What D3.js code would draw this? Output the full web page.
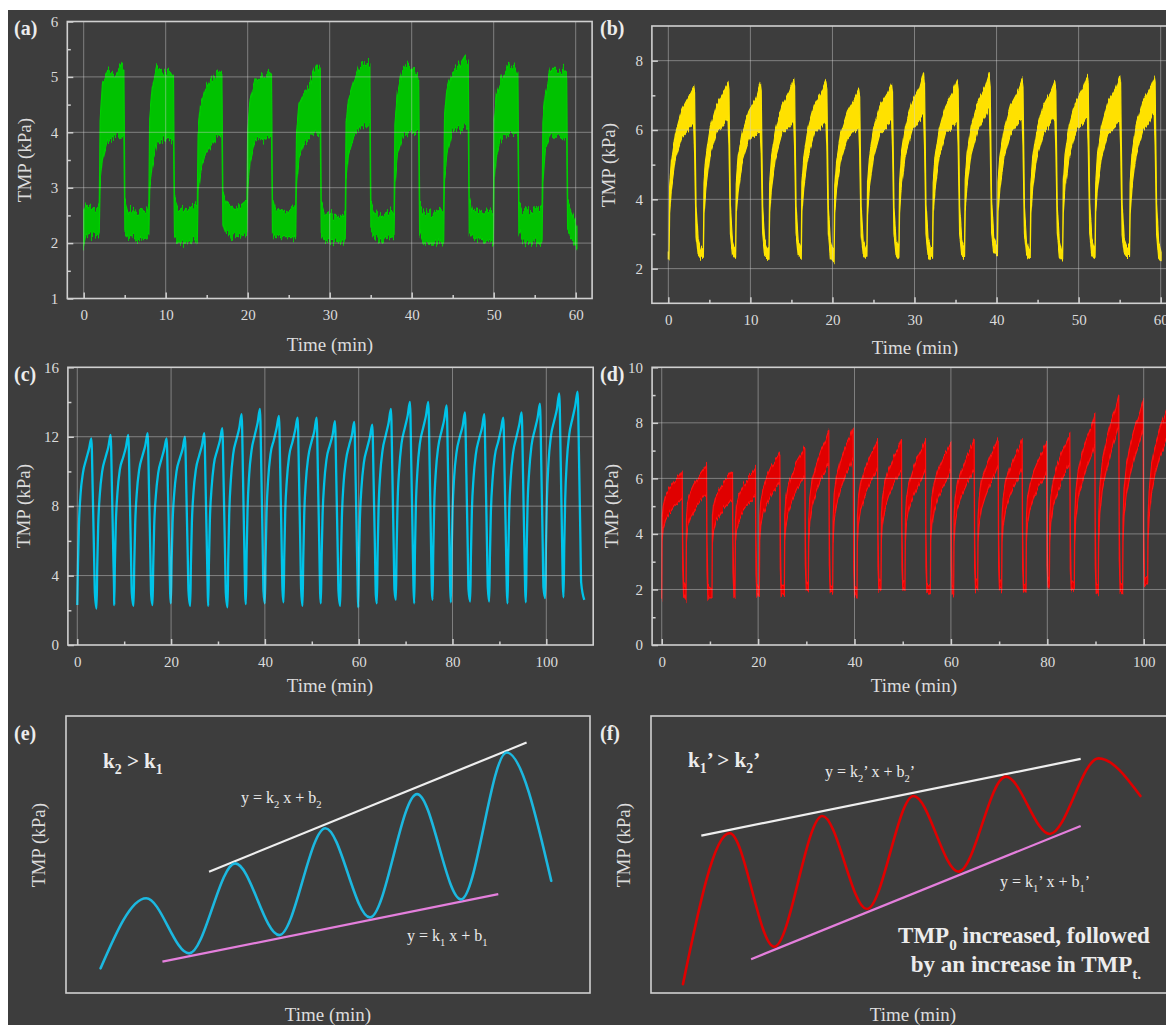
<!DOCTYPE html>
<html>
<head>
<meta charset="utf-8">
<script src="https://cdn.jsdelivr.net/npm/d3@7"></script>
<style>
  body { margin: 0; background: #fff; }
  svg { display: block; }
  text { white-space: pre; }
</style>
</head>
<body>
<svg id="fig" width="1166" height="1025"></svg>
<script>
// ---------------- Data ----------------
// (a) TMP cycles, 6-min period: rise times (min), sample offsets within a cycle (min),
// band upper / lower edges (kPa) at those offsets.
const aRise = [1.9, 7.95, 13.85, 19.9, 25.85, 31.9, 37.85, 43.9, 49.95, 55.9];
const aOffsets = [0, 0.1, 0.4, 1.0, 1.8, 2.6, 3.0, 3.12, 3.5, 4.6, 5.85];
const aUpper = [
  [2.7, 4.2, 4.9, 5.1, 5.0, 5.2, 5.1, 2.8, 2.6, 2.55, 2.6],
  [2.7, 4.3, 4.8, 5.2, 5.1, 5.1, 5.0, 2.8, 2.65, 2.6, 2.7],
  [2.7, 4.0, 4.5, 4.8, 5.0, 5.1, 5.1, 2.9, 2.75, 2.6, 2.75],
  [2.75, 4.1, 4.6, 4.9, 5.0, 5.1, 5.05, 2.8, 2.6, 2.55, 2.65],
  [2.7, 4.0, 4.5, 4.7, 4.9, 5.2, 5.1, 2.75, 2.55, 2.5, 2.5],
  [2.55, 4.2, 4.6, 4.9, 5.2, 5.25, 5.2, 2.75, 2.6, 2.5, 2.6],
  [2.6, 4.2, 4.7, 5.1, 5.25, 5.1, 5.0, 2.7, 2.6, 2.55, 2.6],
  [2.6, 4.3, 4.8, 5.1, 5.2, 5.4, 5.3, 2.8, 2.6, 2.55, 2.6],
  [2.55, 4.2, 4.7, 5.0, 5.2, 5.25, 5.1, 2.75, 2.6, 2.6, 2.65],
  [2.7, 4.2, 4.7, 5.1, 5.1, 5.1, 5.05, 2.75, 2.6]
];
const aLower = [
  [2.2, 3.1, 3.5, 3.85, 3.9, 3.95, 3.9, 2.2, 2.1, 2.05, 2.1],
  [2.15, 3.0, 3.4, 3.8, 3.85, 3.85, 3.9, 2.1, 2.0, 2.0, 2.1],
  [2.0, 2.9, 3.3, 3.6, 3.8, 3.95, 4.0, 2.4, 2.2, 2.1, 2.15],
  [2.15, 3.0, 3.5, 3.85, 3.85, 3.9, 3.95, 2.2, 2.1, 2.1, 2.1],
  [2.1, 3.0, 3.5, 3.8, 3.9, 4.0, 4.0, 2.15, 2.05, 2.05, 2.0],
  [2.05, 3.1, 3.6, 3.9, 4.1, 4.1, 4.1, 2.2, 2.1, 2.05, 2.1],
  [2.1, 3.1, 3.6, 3.9, 4.0, 4.0, 4.0, 2.15, 2.0, 2.0, 2.0],
  [2.05, 3.2, 3.6, 4.0, 4.05, 4.1, 4.05, 2.2, 2.1, 2.05, 2.0],
  [1.95, 3.1, 3.6, 3.9, 4.0, 4.0, 3.95, 2.2, 2.05, 2.0, 2.0],
  [2.05, 3.1, 3.7, 3.95, 3.95, 3.9, 3.9, 2.2, 2.1]
];
const aHead = [[0, 1.95, 2.55], [0.3, 2.15, 2.7], [1.0, 2.1, 2.6], [1.8, 2.15, 2.65]]; // [t, lower, upper]
const aTail = [[59.8, 2.0, 2.45], [60.15, 1.9, 2.3]];

// (b) TMP cycles, 4-min period
const bRise = [0.08, 4.27, 8.2, 12.27, 16.2, 20.2, 24.2, 28.1, 32.2, 36.1, 40.1, 44.1, 48.05, 52.0, 56.2];
const bOffsets = [0, 0.08, 0.3, 0.8, 1.6, 2.5, 3.0, 3.12, 3.3, 3.55, 3.85];
const bUpper = [
  [2.5, 4.4, 5.1, 5.9, 6.6, 7.0, 7.25, 7.05, 3.8, 2.85, 2.6],
  [2.55, 4.5, 5.2, 6.0, 6.7, 7.1, 7.35, 7.1, 3.8, 2.8, 2.55],
  [2.5, 4.5, 5.2, 5.9, 6.5, 6.9, 7.35, 7.1, 3.8, 2.8, 2.6],
  [2.6, 4.5, 5.2, 6.0, 6.7, 7.1, 7.45, 7.2, 3.8, 2.85, 2.6],
  [2.6, 4.5, 5.2, 6.0, 6.7, 7.1, 7.4, 7.2, 3.8, 2.8, 2.55],
  [2.55, 4.4, 5.1, 5.9, 6.5, 6.9, 7.15, 6.95, 3.8, 2.8, 2.6],
  [2.6, 4.5, 5.2, 6.0, 6.7, 7.05, 7.35, 7.1, 3.8, 2.85, 2.6],
  [2.6, 4.5, 5.3, 6.1, 6.8, 7.2, 7.65, 7.3, 3.9, 2.85, 2.6],
  [2.6, 4.5, 5.2, 6.0, 6.7, 7.1, 7.45, 7.2, 3.8, 2.85, 2.6],
  [2.6, 4.6, 5.3, 6.1, 6.8, 7.2, 7.6, 7.3, 3.9, 2.9, 2.7],
  [2.65, 4.5, 5.2, 6.0, 6.7, 7.1, 7.45, 7.2, 3.8, 2.8, 2.55],
  [2.55, 4.5, 5.2, 6.0, 6.7, 7.1, 7.4, 7.15, 3.8, 2.8, 2.5],
  [2.5, 4.5, 5.3, 6.1, 6.8, 7.2, 7.55, 7.3, 3.9, 2.85, 2.6],
  [2.6, 4.5, 5.3, 6.1, 6.8, 7.2, 7.55, 7.3, 3.9, 2.85, 2.65],
  [2.65, 4.5, 5.3, 6.1, 6.8, 7.2, 7.5, 7.3, 3.9, 2.8, 2.5]
];
const bLower = [
  [2.25, 3.6, 4.3, 5.2, 5.8, 6.05, 6.2, 5.4, 3.0, 2.4, 2.3],
  [2.3, 3.6, 4.3, 5.3, 5.95, 6.2, 6.4, 5.5, 3.0, 2.4, 2.3],
  [2.3, 3.6, 4.2, 5.1, 5.7, 5.9, 5.95, 5.3, 3.0, 2.35, 2.3],
  [2.3, 3.6, 4.3, 5.2, 5.9, 6.1, 6.3, 5.5, 3.0, 2.4, 2.3],
  [2.3, 3.6, 4.3, 5.2, 5.9, 6.1, 6.3, 5.5, 3.0, 2.3, 2.2],
  [2.2, 3.6, 4.3, 5.1, 5.75, 6.0, 6.1, 5.3, 3.0, 2.4, 2.3],
  [2.3, 3.6, 4.3, 5.2, 5.9, 6.1, 6.3, 5.5, 3.0, 2.4, 2.3],
  [2.3, 3.6, 4.4, 5.3, 6.0, 6.3, 6.5, 5.6, 3.0, 2.4, 2.3],
  [2.3, 3.6, 4.3, 5.2, 5.9, 6.1, 6.3, 5.5, 3.0, 2.4, 2.35],
  [2.35, 3.7, 4.4, 5.3, 6.0, 6.4, 6.7, 5.7, 3.0, 2.5, 2.4],
  [2.4, 3.6, 4.3, 5.2, 5.9, 6.2, 6.4, 5.5, 3.0, 2.4, 2.3],
  [2.3, 3.6, 4.3, 5.2, 5.9, 6.2, 6.4, 5.5, 3.0, 2.35, 2.25],
  [2.25, 3.6, 4.35, 5.25, 5.95, 6.2, 6.4, 5.5, 3.0, 2.4, 2.3],
  [2.3, 3.6, 4.3, 5.2, 5.9, 6.1, 6.3, 5.5, 3.0, 2.45, 2.35],
  [2.35, 3.6, 4.35, 5.3, 6.0, 6.3, 6.6, 5.6, 3.0, 2.3, 2.2]
];
const bHead = [[0, 2.25, 2.45]];

// (c) TMP cycles: cycle start (trough) times and TMP values at the offsets
const cStart = [0, 4.11, 7.87, 12.0, 16.05, 19.96, 24.08, 27.92, 32.04, 35.95, 40.0, 43.98, 48.03, 51.94,
  56.06, 59.9, 63.88, 67.93, 71.84, 75.75, 79.66, 83.78, 87.83, 91.74, 95.65, 99.77, 103.68];
const cOffsets = [0, 0.15, 0.35, 0.7, 1.2, 1.9, 2.5, 3.0, 3.3, 3.6, 3.75];
const cValues = [
  [2.3, 4.7, 6.9, 8.7, 9.9, 10.7, 11.3, 11.9, 8.8, 4.9, 3.0],
  [2.1, 4.6, 6.9, 8.7, 10.0, 10.8, 11.4, 12.1, 8.8, 4.8, 2.8],
  [2.3, 4.7, 7.0, 8.8, 10.1, 10.8, 11.4, 12.1, 8.9, 4.9, 3.0],
  [2.25, 4.7, 7.0, 8.8, 10.1, 10.9, 11.5, 12.2, 8.9, 4.9, 2.9],
  [2.3, 4.7, 6.9, 8.6, 9.9, 10.7, 11.3, 11.9, 8.7, 4.9, 3.0],
  [2.4, 4.8, 7.0, 8.7, 10.0, 10.75, 11.3, 12.0, 8.8, 5.0, 3.1],
  [2.25, 4.7, 7.0, 8.8, 10.1, 10.9, 11.5, 12.2, 8.9, 4.9, 2.9],
  [2.25, 4.8, 7.2, 9.0, 10.4, 11.2, 11.8, 12.5, 9.1, 5.0, 3.0],
  [2.17, 5.0, 7.5, 9.5, 11.0, 11.85, 12.5, 13.3, 9.6, 5.2, 2.95],
  [2.35, 5.2, 7.75, 9.8, 11.2, 12.1, 12.8, 13.6, 9.9, 5.4, 3.1],
  [2.4, 5.1, 7.6, 9.55, 11.0, 11.8, 12.5, 13.2, 9.7, 5.3, 3.2],
  [2.46, 5.1, 7.6, 9.5, 10.9, 11.7, 12.4, 13.1, 9.6, 5.3, 3.2],
  [2.25, 5.0, 7.45, 9.4, 10.8, 11.7, 12.3, 13.1, 9.5, 5.2, 3.0],
  [2.4, 5.0, 7.4, 9.3, 10.7, 11.5, 12.1, 12.9, 9.4, 5.2, 3.1],
  [2.25, 4.9, 7.3, 9.25, 10.6, 11.5, 12.1, 12.85, 9.35, 5.1, 3.0],
  [2.17, 4.8, 7.2, 9.1, 10.5, 11.35, 12.0, 12.7, 9.2, 5.0, 2.9],
  [2.4, 5.2, 7.8, 9.8, 11.2, 12.1, 12.8, 13.6, 9.9, 5.4, 3.2],
  [2.6, 5.4, 8.1, 10.1, 11.6, 12.5, 13.2, 14.0, 10.2, 5.7, 3.4],
  [2.4, 5.3, 8.0, 10.1, 11.6, 12.5, 13.2, 14.0, 10.2, 5.5, 3.2],
  [2.6, 5.4, 8.0, 10.0, 11.4, 12.3, 13.0, 13.8, 10.1, 5.6, 3.4],
  [2.46, 5.2, 7.7, 9.7, 11.1, 12.0, 12.6, 13.4, 9.8, 5.4, 3.2],
  [2.5, 5.2, 7.7, 9.6, 11.0, 11.9, 12.5, 13.3, 9.7, 5.4, 3.3],
  [2.5, 5.15, 7.6, 9.5, 10.9, 11.7, 12.4, 13.1, 9.6, 5.4, 3.2],
  [2.4, 5.2, 7.7, 9.7, 11.1, 12.0, 12.7, 13.4, 9.8, 5.4, 3.2],
  [2.46, 5.3, 8.0, 10.0, 11.5, 12.4, 13.1, 13.9, 10.1, 5.55, 3.3],
  [2.7, 5.6, 8.3, 10.5, 12.0, 12.9, 13.6, 14.5, 10.6, 5.9, 3.5],
  [2.75, 5.7, 8.4, 10.6, 12.1, 13.05, 13.8, 14.6, 10.7, 5.95, 3.6]
];
const cTail = [[108.1, 2.6]];

// (d) TMP cycles, ~5-min period
const dRise = [0, 5.04, 10.43, 15.2, 20.25, 25.44, 30.42, 35.47, 40.52, 45.49, 50.47, 55.73, 60.57,
  65.55, 70.53, 75.58, 80.42, 85.6, 90.58, 95.63, 100.82];
const dOffsets = [0, 0.08, 0.3, 0.8, 1.6, 2.6, 3.6, 4.25, 4.35, 4.55, 4.7];
const dUpper = [
  [2.0, 4.6, 5.0, 5.4, 5.65, 5.9, 6.1, 6.3, 3.8, 2.1, 2.2],
  [2.0, 4.6, 5.1, 5.45, 5.75, 6.05, 6.3, 6.5, 3.8, 2.0, 2.1],
  [2.0, 4.6, 5.0, 5.35, 5.6, 5.9, 6.1, 6.25, 3.8, 2.1, 2.2],
  [2.0, 4.6, 5.05, 5.4, 5.7, 6.0, 6.2, 6.4, 3.8, 2.1, 2.2],
  [2.1, 4.6, 5.2, 5.65, 6.05, 6.45, 6.7, 6.95, 3.9, 2.1, 2.2],
  [2.1, 4.6, 5.25, 5.75, 6.15, 6.6, 6.9, 7.15, 4.0, 2.2, 2.3],
  [2.2, 4.6, 5.35, 6.0, 6.5, 7.0, 7.35, 7.7, 4.0, 2.1, 2.2],
  [2.1, 4.6, 5.4, 6.05, 6.6, 7.15, 7.5, 7.85, 4.0, 2.0, 2.1],
  [2.0, 4.6, 5.3, 5.85, 6.3, 6.75, 7.1, 7.4, 4.0, 2.2, 2.3],
  [2.3, 4.6, 5.3, 5.85, 6.3, 6.75, 7.1, 7.4, 4.0, 2.25, 2.35],
  [2.35, 4.6, 5.3, 5.85, 6.3, 6.75, 7.1, 7.4, 4.0, 2.1, 2.2],
  [2.2, 4.6, 5.3, 5.8, 6.3, 6.7, 7.05, 7.3, 4.0, 2.05, 2.15],
  [2.15, 4.6, 5.3, 5.85, 6.3, 6.75, 7.1, 7.4, 4.0, 2.2, 2.3],
  [2.3, 4.6, 5.3, 5.9, 6.35, 6.8, 7.15, 7.45, 4.0, 2.2, 2.3],
  [2.3, 4.6, 5.3, 5.85, 6.3, 6.75, 7.1, 7.4, 4.0, 2.15, 2.25],
  [2.25, 4.6, 5.3, 5.8, 6.3, 6.7, 7.05, 7.3, 4.0, 2.3, 2.4],
  [2.4, 4.6, 5.35, 5.95, 6.45, 6.95, 7.3, 7.6, 4.0, 2.2, 2.3],
  [2.3, 4.6, 5.5, 6.25, 6.9, 7.45, 7.9, 8.3, 4.2, 2.1, 2.2],
  [2.2, 4.6, 5.7, 6.6, 7.3, 8.0, 8.55, 9.0, 4.3, 2.1, 2.2],
  [2.2, 4.6, 5.65, 6.5, 7.2, 7.9, 8.4, 8.8, 4.3, 2.35, 2.45],
  [2.45, 4.6, 5.6, 6.5, 7.2, 7.85, 8.3, 8.6]
];
const dLower = [
  [1.65, 3.7, 4.2, 4.5, 4.75, 5.0, 5.15, 5.3, 2.6, 1.68, 1.8],
  [1.6, 3.7, 4.2, 4.55, 4.85, 5.1, 5.35, 5.5, 2.6, 1.6, 1.7],
  [1.7, 3.7, 4.1, 4.45, 4.7, 4.95, 5.15, 5.3, 2.6, 1.7, 1.8],
  [1.75, 3.7, 4.15, 4.5, 4.8, 5.05, 5.25, 5.4, 2.6, 1.75, 1.85],
  [1.75, 3.7, 4.3, 4.75, 5.1, 5.45, 5.7, 5.9, 2.7, 1.75, 1.85],
  [1.75, 3.7, 4.3, 4.8, 5.2, 5.6, 5.9, 6.1, 2.8, 1.95, 2.0],
  [1.95, 3.7, 4.4, 5.0, 5.5, 5.95, 6.3, 6.6, 2.8, 1.9, 2.0],
  [1.9, 3.7, 4.45, 5.05, 5.6, 6.1, 6.45, 6.8, 2.8, 1.72, 1.85],
  [1.72, 3.7, 4.35, 4.9, 5.35, 5.75, 6.1, 6.4, 2.8, 1.95, 2.05],
  [1.95, 3.7, 4.35, 4.9, 5.35, 5.75, 6.1, 6.35, 2.8, 2.0, 2.1],
  [2.0, 3.7, 4.35, 4.9, 5.3, 5.7, 6.05, 6.35, 2.8, 1.85, 1.95],
  [1.85, 3.7, 4.3, 4.85, 5.3, 5.7, 6.0, 6.3, 2.8, 1.8, 1.9],
  [1.8, 3.7, 4.35, 4.9, 5.35, 5.75, 6.1, 6.4, 2.8, 1.95, 2.05],
  [1.95, 3.7, 4.35, 4.9, 5.35, 5.8, 6.15, 6.45, 2.8, 1.95, 2.05],
  [1.95, 3.7, 4.35, 4.9, 5.35, 5.75, 6.1, 6.4, 2.8, 1.9, 2.0],
  [1.9, 3.7, 4.3, 4.85, 5.3, 5.7, 6.0, 6.3, 2.8, 2.05, 2.15],
  [2.05, 3.7, 4.4, 5.0, 5.45, 5.9, 6.3, 6.6, 2.8, 1.95, 2.05],
  [1.95, 3.7, 4.5, 5.25, 5.85, 6.4, 6.85, 7.25, 2.9, 1.85, 1.95],
  [1.85, 3.7, 4.65, 5.55, 6.25, 6.95, 7.5, 7.95, 3.0, 1.85, 1.95],
  [1.85, 3.7, 4.6, 5.45, 6.15, 6.85, 7.35, 7.8, 3.0, 2.1, 2.2],
  [2.2, 3.7, 4.6, 5.45, 6.15, 6.8, 7.25, 7.6]
];

// (e), (f) schematic curves in relative units (0-100 on both axes)
const eCurveX = [6.6, 15.3, 23.5, 32.3, 40.7, 49.5, 58.0, 67.0, 75.4, 84.1, 92.6];
const eCurveY = [8.9, 34.2, 14.3, 46.8, 20.9, 59.5, 27.3, 71.8, 33.8, 86.8, 40.5];
const eUpperLine = [[27.3, 43.8], [87.9, 90.4]];
const eLowerLine = [[18.4, 11.3], [82.5, 35.7]];
const fCurveX = [6.1, 15.0, 23.5, 32.7, 41.2, 50.1, 58.7, 67.7, 76.1, 85.4, 93.4];
const fCurveY = [3.2, 57.7, 16.7, 63.9, 30.3, 71.1, 43.8, 78.1, 57.4, 84.7, 71.1];
const fUpperLine = [[9.6, 56.8], [82.0, 84.5]];
const fLowerLine = [[19.1, 12.2], [82.0, 60.3]];

// ---------------- Drawing ----------------
const FONT = '"Liberation Serif", "Times New Roman", serif';
const BG = '#3d3d3d';
const GRID = 'rgba(210,210,210,0.45)';
const FRAME = '#d0d0d0';
const TXT = '#dcdcdc';

const svg = d3.select('#fig');
svg.append('rect').attr('width', 1166).attr('height', 1025).attr('fill', '#ffffff');
svg.append('rect').attr('x', 8).attr('y', 10).attr('width', 1158).attr('height', 1015).attr('fill', BG);
const defs = svg.append('defs');

// rough edge texture for the noisy measured bands
function jagFilter(id, scale, seed) {
  const f = defs.append('filter').attr('id', id)
    .attr('filterUnits', 'userSpaceOnUse').attr('x', 0).attr('y', 0)
    .attr('width', 1166).attr('height', 1025)
    .attr('color-interpolation-filters', 'sRGB');
  f.append('feTurbulence').attr('type', 'fractalNoise').attr('baseFrequency', '0.6 0.02')
    .attr('numOctaves', 2).attr('seed', seed).attr('result', 'n');
  f.append('feColorMatrix').attr('in', 'n').attr('type', 'matrix')
    .attr('values', '0 0 0 0 0.5  0 1 0 0 0  0 0 0 0 0  0 0 0 0 1').attr('result', 'm');
  f.append('feDisplacementMap').attr('in', 'SourceGraphic').attr('in2', 'm')
    .attr('scale', scale).attr('xChannelSelector', 'R').attr('yChannelSelector', 'G');
}
jagFilter('jagA', 18, 3);
jagFilter('jagB', 10, 7);

function bandPoints(head, starts, offsets, upper, lower, tail) {
  const pts = head.map(([t, lo, hi]) => ({ t, lo, hi }));
  starts.forEach((s, k) => {
    upper[k].forEach((hi, i) => pts.push({ t: s + offsets[i], lo: lower[k][i], hi }));
  });
  tail.forEach(([t, lo, hi]) => pts.push({ t, lo, hi }));
  return pts;
}

function linePoints(starts, offsets, values, tail) {
  const pts = [];
  starts.forEach((s, k) => values[k].forEach((v, i) => pts.push({ t: s + offsets[i], v })));
  tail.forEach(([t, v]) => pts.push({ t, v }));
  return pts;
}

function addText(g, x, y, str, size, opts = {}) {
  return g.append('text').attr('x', x).attr('y', y).text(str)
    .attr('font-family', FONT).attr('font-size', size)
    .attr('font-weight', opts.bold ? 'bold' : 'normal')
    .attr('text-anchor', opts.anchor || 'start')
    .attr('fill', opts.fill || TXT);
}

// text with subscripts: parts = [[string, isSub], ...]
function richText(g, x, y, parts, size, opts = {}) {
  const t = g.append('text').attr('x', x).attr('y', y)
    .attr('font-family', FONT).attr('font-size', size)
    .attr('font-weight', opts.bold ? 'bold' : 'normal')
    .attr('text-anchor', opts.anchor || 'start')
    .attr('fill', opts.fill || '#ececec');
  let down = false;
  const shift = size * 0.3;
  parts.forEach(([s, sub]) => {
    const ts = t.append('tspan').text(s);
    if (sub) {
      ts.attr('font-size', size * 0.66);
      if (!down) { ts.attr('dy', shift); down = true; }
    } else if (down) {
      ts.attr('dy', -shift); down = false;
    }
  });
  return t;
}

function yTitle(g, x, y, size) {
  g.append('text').attr('transform', `translate(${x},${y}) rotate(-90)`)
    .attr('text-anchor', 'middle').attr('dy', '0.35em')
    .attr('font-family', FONT).attr('font-size', size).attr('fill', TXT)
    .text('TMP (kPa)');
}

function dataPanel(p) {
  const g = svg.append('g');
  const x = d3.scaleLinear().domain(p.xDomain).range([p.left, p.right]);
  const y = d3.scaleLinear().domain(p.yDomain).range([p.bottom, p.top]);

  const clipId = 'clip-' + p.id;
  defs.append('clipPath').attr('id', clipId).append('rect')
    .attr('x', p.left).attr('y', p.top)
    .attr('width', p.right - p.left).attr('height', p.bottom - p.top);
  const dg = g.append('g').attr('clip-path', `url(#${clipId})`);

  if (p.band) {
    const area = d3.area().x(d => x(d.t)).y0(d => y(d.lo)).y1(d => y(d.hi));
    dg.append('path').datum(p.band).attr('d', area)
      .attr('fill', p.fill).attr('stroke', p.color).attr('stroke-width', 1.2)
      .attr('stroke-linejoin', 'round').attr('filter', `url(#${p.filter})`);
  }
  if (p.line) {
    const line = d3.line().x(d => x(d.t)).y(d => y(d.v)).curve(d3.curveMonotoneX);
    dg.append('path').datum(p.line).attr('d', line)
      .attr('fill', 'none').attr('stroke', p.color).attr('stroke-width', 2.3)
      .attr('stroke-linejoin', 'round');
  }

  // grid on top of the traces
  const grid = g.append('g').attr('stroke', GRID).attr('stroke-width', 1);
  grid.selectAll('line.gx').data(p.xGrid).join('line').attr('class', 'gx')
    .attr('x1', d => x(d)).attr('x2', d => x(d)).attr('y1', p.top).attr('y2', p.bottom);
  grid.selectAll('line.gy').data(p.yGrid).join('line').attr('class', 'gy')
    .attr('x1', p.left).attr('x2', p.right).attr('y1', d => y(d)).attr('y2', d => y(d));

  const styleAxis = (sel) => {
    sel.select('.domain').remove();
    sel.selectAll('line').attr('stroke', FRAME).attr('stroke-width', 1.5);
    sel.selectAll('text').attr('fill', TXT).attr('font-size', 15).attr('font-family', FONT);
  };
  g.append('g').attr('transform', `translate(0,${p.bottom})`)
    .call(d3.axisBottom(x).tickValues(p.xMajor).tickSize(-6).tickPadding(11).tickFormat(d3.format('d')))
    .call(styleAxis);
  g.append('g').attr('transform', `translate(0,${p.bottom})`)
    .call(d3.axisBottom(x).tickValues(p.xMinor).tickSize(-3.5).tickFormat(() => ''))
    .call(styleAxis);
  g.append('g').attr('transform', `translate(${p.left},0)`)
    .call(d3.axisLeft(y).tickValues(p.yMajor).tickSize(-6).tickPadding(9).tickFormat(d3.format('d')))
    .call(styleAxis);
  g.append('g').attr('transform', `translate(${p.left},0)`)
    .call(d3.axisLeft(y).tickValues(p.yMinor).tickSize(-3.5).tickFormat(() => ''))
    .call(styleAxis);

  g.append('rect').attr('x', p.left).attr('y', p.top)
    .attr('width', p.right - p.left).attr('height', p.bottom - p.top)
    .attr('fill', 'none').attr('stroke', FRAME).attr('stroke-width', 1.6);

  addText(g, p.tag[0], p.tag[1], p.tagText, 20, { bold: true, fill: '#ececec' });
  const xt = addText(g, p.xTitle[0], p.xTitle[1], 'Time (min)', 19, { anchor: 'middle' });
  if (p.titleClip) {
    defs.append('clipPath').attr('id', clipId + '-t').append('rect')
      .attr('x', 0).attr('y', 0).attr('width', 1166).attr('height', p.titleClip);
    xt.attr('clip-path', `url(#${clipId}-t)`);
  }
  yTitle(g, p.yTitle[0], p.yTitle[1], 19);
}

const range = (a, b, s) => d3.range(a, b + s / 2, s);

dataPanel({
  id: 'a', left: 67.3, right: 592.1, top: 21.5, bottom: 298.5,
  xDomain: [-2, 62], yDomain: [1, 6],
  xMajor: range(0, 60, 10), xMinor: range(5, 55, 10),
  yMajor: range(1, 6, 1), yMinor: range(1.5, 5.5, 1),
  xGrid: range(0, 60, 10), yGrid: [2, 3, 4, 5],
  band: bandPoints(aHead, aRise, aOffsets, aUpper, aLower, aTail),
  color: '#00d000', fill: '#00c200', filter: 'jagA',
  tag: [14, 35], tagText: '(a)', xTitle: [330, 351], yTitle: [24, 160]
});

dataPanel({
  id: 'b', left: 651.9, right: 1177.1, top: 26, bottom: 303.3,
  xDomain: [-2, 62], yDomain: [1, 9],
  xMajor: range(0, 60, 10), xMinor: range(5, 55, 10),
  yMajor: [2, 4, 6, 8], yMinor: [3, 5, 7],
  xGrid: range(0, 60, 10), yGrid: [2, 4, 6, 8],
  band: bandPoints(bHead, bRise, bOffsets, bUpper, bLower, []),
  color: '#ffe800', fill: '#ffe100', filter: 'jagB',
  tag: [600, 35], tagText: '(b)', xTitle: [915, 354], yTitle: [608, 165],
  titleClip: 356
});

dataPanel({
  id: 'c', left: 67.9, right: 593.2, top: 367.3, bottom: 645,
  xDomain: [-2, 110], yDomain: [0, 16],
  xMajor: range(0, 100, 20), xMinor: range(10, 90, 20),
  yMajor: [0, 4, 8, 12, 16], yMinor: [2, 6, 10, 14],
  xGrid: range(0, 100, 20), yGrid: [4, 8, 12],
  line: linePoints(cStart, cOffsets, cValues, cTail),
  color: '#00c3e8',
  tag: [14, 381], tagText: '(c)', xTitle: [330, 692], yTitle: [23, 506]
});

dataPanel({
  id: 'd', left: 652.1, right: 1191.9, top: 367.3, bottom: 645,
  xDomain: [-2, 110], yDomain: [0, 10],
  xMajor: range(0, 100, 20), xMinor: range(10, 110, 20),
  yMajor: range(0, 10, 2), yMinor: range(1, 9, 2),
  xGrid: range(0, 100, 20), yGrid: [2, 4, 6, 8],
  band: bandPoints([], dRise, dOffsets, dUpper, dLower, []),
  color: '#ff1010', fill: '#e00000', filter: 'jagB',
  tag: [600, 381], tagText: '(d)', xTitle: [914, 692], yTitle: [611, 506]
});

// schematic panels
function schematicPanel(p, cx, cy, upperLine, lowerLine) {
  const g = svg.append('g');
  const x = d3.scaleLinear().domain([0, 100]).range([p.left, p.right]);
  const y = d3.scaleLinear().domain([0, 100]).range([p.bottom, p.top]);
  g.append('rect').attr('x', p.left).attr('y', p.top)
    .attr('width', p.right - p.left).attr('height', p.bottom - p.top)
    .attr('fill', 'none').attr('stroke', FRAME).attr('stroke-width', 1.6);

  const seg = d3.line().x(d => x(d[0])).y(d => y(d[1]));
  g.append('path').attr('d', seg(upperLine)).attr('stroke', '#eeeeee').attr('stroke-width', 2.2).attr('fill', 'none');
  g.append('path').attr('d', seg(lowerLine)).attr('stroke', '#e47fdc').attr('stroke-width', 2.2).attr('fill', 'none');

  const pts = cx.map((v, i) => [v, cy[i]]);
  const curve = d3.line().x(d => x(d[0])).y(d => y(d[1])).curve(d3.curveMonotoneX);
  g.append('path').attr('d', curve(pts)).attr('stroke', p.color).attr('stroke-width', 2.6)
    .attr('fill', 'none').attr('stroke-linecap', 'round');

  addText(g, p.tag[0], p.tag[1], p.tagText, 20, { bold: true, fill: '#ececec' });
  addText(g, p.xTitle[0], p.xTitle[1], 'Time (min)', 19, { anchor: 'middle' });
  yTitle(g, p.yTitle[0], p.yTitle[1], 19);
  return g;
}

const ge = schematicPanel({ left: 66, right: 590, top: 716, bottom: 993, color: '#1cb8e0',
  tag: [14, 740], tagText: '(e)', xTitle: [328, 1021], yTitle: [38, 845] },
  eCurveX, eCurveY, eUpperLine, eLowerLine);
richText(ge, 103, 768, [['k', 0], ['2', 1], [' > k', 0], ['1', 1]], 21, { bold: true });
richText(ge, 241, 803, [['y = k', 0], ['2', 1], [' x + b', 0], ['2', 1]], 16);
richText(ge, 407, 941, [['y = k', 0], ['1', 1], [' x + b', 0], ['1', 1]], 16);

const gf = schematicPanel({ left: 651, right: 1175, top: 716, bottom: 993, color: '#e00000',
  tag: [600, 740], tagText: '(f)', xTitle: [913, 1021], yTitle: [623, 845] },
  fCurveX, fCurveY, fUpperLine, fLowerLine);
richText(gf, 688, 767, [['k', 0], ['1', 1], ['\u2019 > k', 0], ['2', 1], ['\u2019', 0]], 21, { bold: true });
richText(gf, 825, 777, [['y = k', 0], ['2', 1], ['\u2019 x + b', 0], ['2', 1], ['\u2019', 0]], 16);
richText(gf, 1000, 887, [['y = k', 0], ['1', 1], ['\u2019 x + b', 0], ['1', 1], ['\u2019', 0]], 16);
richText(gf, 1024, 943, [['TMP', 0], ['0', 1], [' increased, followed', 0]], 23, { bold: true, anchor: 'middle' });
richText(gf, 1026, 972, [['by an increase in TMP', 0], ['t.', 1]], 23, { bold: true, anchor: 'middle' });
</script>
</body>
</html>
